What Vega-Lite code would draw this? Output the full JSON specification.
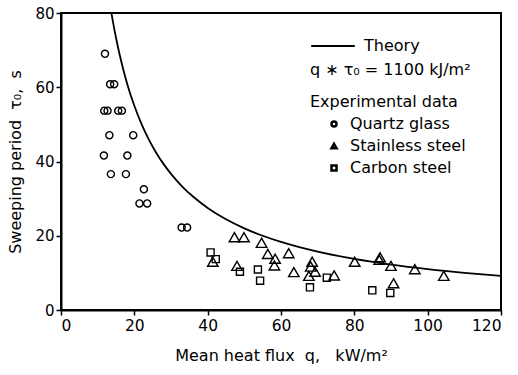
{
  "$schema": "https://vega.github.io/schema/vega-lite/v6.json",
  "width": 440,
  "height": 297,
  "autosize": {"type": "none"},
  "padding": {"left": 61, "top": 13, "right": 17, "bottom": 65},
  "background": "white",
  "config": {
    "font": "DejaVu Sans",
    "view": {"stroke": "black", "strokeWidth": 2},
    "axis": {
      "grid": false,
      "domainColor": "black",
      "domainWidth": 2,
      "tickColor": "black",
      "tickWidth": 1.5,
      "labelOverlap": false,
      "labelFont": "DejaVu Sans",
      "labelFontSize": 15.5,
      "labelColor": "black",
      "titleFont": "DejaVu Sans",
      "titleFontSize": 16,
      "titleFontWeight": "normal",
      "titleColor": "black"
    },
    "legend": {
      "labelFont": "DejaVu Sans",
      "labelFontSize": 16,
      "labelColor": "black",
      "titleFont": "DejaVu Sans",
      "titleFontSize": 16,
      "titleFontWeight": "normal",
      "titleColor": "black"
    }
  },
  "layer": [
    {
      "data": {"values": [
        {"q": 13.75, "tau": 80}, {"q": 14, "tau": 78.57}, {"q": 15, "tau": 73.33}, {"q": 16, "tau": 68.75},
        {"q": 17, "tau": 64.71}, {"q": 18, "tau": 61.11}, {"q": 20, "tau": 55}, {"q": 22, "tau": 50},
        {"q": 24, "tau": 45.83}, {"q": 26, "tau": 42.31}, {"q": 28, "tau": 39.29}, {"q": 30, "tau": 36.67},
        {"q": 33, "tau": 33.33}, {"q": 36, "tau": 30.56}, {"q": 40, "tau": 27.5}, {"q": 45, "tau": 24.44},
        {"q": 50, "tau": 22}, {"q": 55, "tau": 20}, {"q": 60, "tau": 18.33}, {"q": 65, "tau": 16.92},
        {"q": 70, "tau": 15.71}, {"q": 80, "tau": 13.75}, {"q": 90, "tau": 12.22}, {"q": 100, "tau": 11},
        {"q": 110, "tau": 10}, {"q": 120, "tau": 9.17}
      ]},
      "mark": {"type": "line", "interpolate": "monotone", "strokeWidth": 1.8, "clip": true},
      "encoding": {
        "x": {"field": "q", "type": "quantitative",
          "scale": {"domain": [0, 120], "nice": false},
          "axis": {"orient": "bottom", "values": [0,10,20,30,40,50,60,70,80,90,100,110,120],
            "tickSize": 5, "labelPadding": 3, "labelOverlap": false,
            "labelExpr": "datum.value % 20 === 0 ? datum.label : ''",
            "title": "Mean heat flux\u00a0\u00a0q,\u00a0\u00a0\u00a0kW/m²", "titlePadding": 14}},
        "y": {"field": "tau", "type": "quantitative",
          "scale": {"domain": [0, 80], "nice": false},
          "axis": {"orient": "left", "values": [0,10,20,30,40,50,60,70,80],
            "tickSize": 5, "labelPadding": 2, "labelOverlap": false, "labelFontSize": 15,
            "title": "Sweeping period\u00a0\u00a0τ₀,\u00a0\u00a0s", "titlePadding": 11}},
        "stroke": {"datum": "Theory", "type": "nominal",
          "scale": {"range": ["black"]},
          "legend": {"title": null, "orient": "none", "legendX": 249, "legendY": 10, "symbolType": "stroke",
            "symbolSize": 1900, "symbolStrokeWidth": 2, "labelOffset": 8}}
      }
    },
    {
      "data": {"values": [
        {"q": 12.0, "tau": 69.0, "material": "Quartz glass"},
        {"q": 13.4, "tau": 60.8, "material": "Quartz glass"},
        {"q": 14.5, "tau": 60.8, "material": "Quartz glass"},
        {"q": 11.8, "tau": 53.7, "material": "Quartz glass"},
        {"q": 12.7, "tau": 53.7, "material": "Quartz glass"},
        {"q": 15.6, "tau": 53.7, "material": "Quartz glass"},
        {"q": 16.6, "tau": 53.7, "material": "Quartz glass"},
        {"q": 13.2, "tau": 47.1, "material": "Quartz glass"},
        {"q": 19.7, "tau": 47.1, "material": "Quartz glass"},
        {"q": 11.7, "tau": 41.6, "material": "Quartz glass"},
        {"q": 18.1, "tau": 41.6, "material": "Quartz glass"},
        {"q": 13.6, "tau": 36.6, "material": "Quartz glass"},
        {"q": 17.7, "tau": 36.6, "material": "Quartz glass"},
        {"q": 22.6, "tau": 32.5, "material": "Quartz glass"},
        {"q": 21.4, "tau": 28.7, "material": "Quartz glass"},
        {"q": 23.5, "tau": 28.7, "material": "Quartz glass"},
        {"q": 32.9, "tau": 22.2, "material": "Quartz glass"},
        {"q": 34.4, "tau": 22.2, "material": "Quartz glass"},
        {"q": 41.4, "tau": 13.0, "material": "Stainless steel"},
        {"q": 47.3, "tau": 19.6, "material": "Stainless steel"},
        {"q": 49.9, "tau": 19.6, "material": "Stainless steel"},
        {"q": 54.7, "tau": 18.1, "material": "Stainless steel"},
        {"q": 56.4, "tau": 15.1, "material": "Stainless steel"},
        {"q": 58.4, "tau": 13.8, "material": "Stainless steel"},
        {"q": 62.1, "tau": 15.3, "material": "Stainless steel"},
        {"q": 48.0, "tau": 11.9, "material": "Stainless steel"},
        {"q": 58.2, "tau": 12.0, "material": "Stainless steel"},
        {"q": 63.5, "tau": 10.2, "material": "Stainless steel"},
        {"q": 68.5, "tau": 13.0, "material": "Stainless steel"},
        {"q": 68.1, "tau": 11.7, "material": "Stainless steel"},
        {"q": 69.3, "tau": 10.3, "material": "Stainless steel"},
        {"q": 67.6, "tau": 9.2, "material": "Stainless steel"},
        {"q": 74.5, "tau": 9.3, "material": "Stainless steel"},
        {"q": 80.1, "tau": 13.0, "material": "Stainless steel"},
        {"q": 87.0, "tau": 14.2, "material": "Stainless steel"},
        {"q": 86.8, "tau": 13.5, "material": "Stainless steel"},
        {"q": 90.0, "tau": 11.9, "material": "Stainless steel"},
        {"q": 96.5, "tau": 11.0, "material": "Stainless steel"},
        {"q": 104.4, "tau": 9.2, "material": "Stainless steel"},
        {"q": 90.7, "tau": 7.2, "material": "Stainless steel"},
        {"q": 40.8, "tau": 15.5, "material": "Carbon steel"},
        {"q": 42.2, "tau": 13.7, "material": "Carbon steel"},
        {"q": 48.8, "tau": 10.3, "material": "Carbon steel"},
        {"q": 53.7, "tau": 10.9, "material": "Carbon steel"},
        {"q": 54.3, "tau": 7.9, "material": "Carbon steel"},
        {"q": 67.9, "tau": 6.1, "material": "Carbon steel"},
        {"q": 72.5, "tau": 8.7, "material": "Carbon steel"},
        {"q": 84.9, "tau": 5.3, "material": "Carbon steel"},
        {"q": 89.8, "tau": 4.6, "material": "Carbon steel"}
      ]},
      "mark": {"type": "point", "filled": false, "color": "black", "strokeWidth": 1.4, "opacity": 1},
      "encoding": {
        "x": {"field": "q", "type": "quantitative"},
        "y": {"field": "tau", "type": "quantitative"},
        "size": {"field": "material", "type": "nominal",
          "scale": {"type": "ordinal", "domain": ["Quartz glass", "Stainless steel", "Carbon steel"], "range": [50, 110, 50]},
          "legend": null},
        "shape": {"field": "material", "type": "nominal",
          "scale": {"domain": ["Quartz glass", "Stainless steel", "Carbon steel"], "range": ["circle", "triangle-up", "square"]},
          "legend": {"title": ["q ∗ τ₀ = 1100  kJ/m²", "Experimental data"], "orient": "none", "legendX": 249, "legendY": 49,
            "titleLineHeight": 32, "symbolOffset": 16,
            "symbolSize": 25, "symbolStrokeWidth": 2.5, "symbolStrokeColor": "black", "symbolFillColor": "white",
            "labelOffset": 8, "titlePadding": 6, "rowPadding": 6}}
      }
    }
  ],
  "resolve": {"legend": {"stroke": "independent", "shape": "independent"}}
}
